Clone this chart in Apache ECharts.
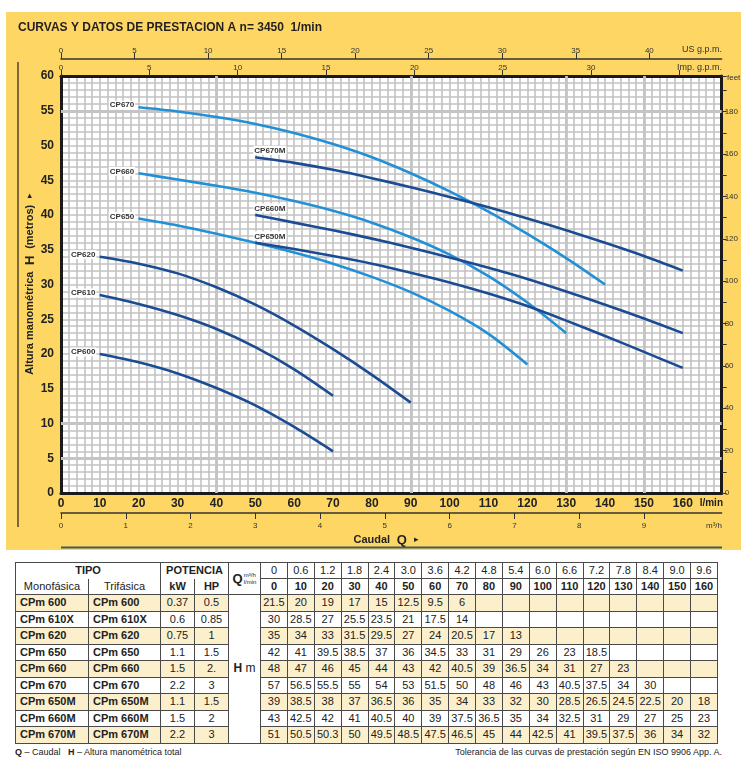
<!DOCTYPE html>
<html><head><meta charset="utf-8">
<script src="https://cdn.jsdelivr.net/npm/echarts@6/dist/echarts.min.js"></script>
<style>
body{margin:0;background:#fff;}
#wrap{position:relative;width:741px;height:758px;overflow:hidden;background:#fff;}
#panel{position:absolute;left:6px;top:12px;width:735px;height:538px;background:#FDD663;}
#chart{position:absolute;left:0;top:0;width:741px;height:560px;}
#tbl{position:absolute;left:15px;top:562px;border-collapse:collapse;table-layout:fixed;width:702px;
  font-family:"Liberation Sans",Arial,sans-serif;font-size:11px;color:#222;}
#tbl td{border:1px solid #4a4a4a;padding:0;text-align:center;white-space:nowrap;overflow:hidden;line-height:13px;}
#tbl tr.hd td{height:15px;}
#tbl tr.dr td{height:15.5px;}
#tbl tr.cream td{background:#FCEFCC;}
#tbl td.nm{text-align:left;padding-left:4px;font-weight:bold;}
#tbl td.b{font-weight:bold;}
#tbl td.hm{background:#fff !important;font-size:12px;}
.qb{font-weight:bold;font-size:13px;vertical-align:middle;}
.qs{display:inline-block;font-size:6px;line-height:7px;vertical-align:middle;text-align:left;margin-left:1px;}
.foot{position:absolute;top:747px;font-family:"Liberation Sans",Arial,sans-serif;font-size:9px;color:#222;}
</style>
</head><body>
<div id="wrap">
  <div id="panel"></div>
  <div id="chart"></div>
  <table id="tbl"></table>
  <div class="foot" style="left:15px;"><b>Q</b> – Caudal &nbsp;&nbsp;<b>H</b> – Altura manométrica total</div>
  <div class="foot" style="right:19px;">Tolerancia de las curvas de prestación según EN ISO 9906 App. A.</div>
</div>
<script>
// ---------- table data ----------
const qLmin = [0,10,20,30,40,50,60,70,80,90,100,110,120,130,140,150,160];
const qM3h = ['0','0.6','1.2','1.8','2.4','3.0','3.6','4.2','4.8','5.4','6.0','6.6','7.2','7.8','8.4','9.0','9.6'];
const typesMono = ['CPm 600','CPm 610X','CPm 620','CPm 650','CPm 660','CPm 670','CPm 650M','CPm 660M','CPm 670M'];
const typesTri  = ['CPm 600','CPm 610X','CPm 620','CPm 650','CPm 660','CPm 670','CPm 650M','CPm 660M','CPm 670M'];
const powerKW = ['0.37','0.6','0.75','1.1','1.5','2.2','1.1','1.5','2.2'];
const powerHP = ['0.5','0.85','1','1.5','2.','3','1.5','2','3'];
const h600  = [21.5,20,19,17,15,12.5,9.5,6];
const h610X = [30,28.5,27,25.5,23.5,21,17.5,14];
const h620  = [35,34,33,31.5,29.5,27,24,20.5,17,13];
const h650  = [42,41,39.5,38.5,37,36,34.5,33,31,29,26,23,18.5];
const h660  = [48,47,46,45,44,43,42,40.5,39,36.5,34,31,27,23];
const h670  = [57,56.5,55.5,55,54,53,51.5,50,48,46,43,40.5,37.5,34,30];
const h650M = [39,38.5,38,37,36.5,36,35,34,33,32,30,28.5,26.5,24.5,22.5,20,18];
const h660M = [43,42.5,42,41,40.5,40,39,37.5,36.5,35,34,32.5,31,29,27,25,23];
const h670M = [51,50.5,50.3,50,49.5,48.5,47.5,46.5,45,44,42.5,41,39.5,37.5,36,34,32];
const heads = [h600,h610X,h620,h650,h660,h670,h650M,h660M,h670M];

// ---------- curve data (every 10 l/min from the start flow) ----------
const curveNames  = ['CP600','CP610','CP620','CP650','CP660','CP670','CP650M','CP660M','CP670M'];
const curveStartQ = [10,10,10,20,20,20,50,50,50];
const c600  = [20,18.8,17.2,15.1,12.6,9.5,6];
const c610  = [28.5,27.2,25.6,23.6,21.0,17.8,14];
const c620  = [34,33,31.6,29.6,27.1,24.1,20.7,17,13];
const c650  = [39.5,38.5,37.3,36.0,34.6,33.0,31.1,28.9,26.2,22.9,18.5];
const c660  = [46,45.1,44.2,43.2,42.0,40.6,38.9,36.8,34.3,31.2,27.4,23];
const c670  = [55.5,54.9,54.1,53.1,51.8,50.2,48.3,46.0,43.4,40.5,37.3,33.8,30];
const c650M = [36,35.1,34.1,33.0,31.7,30.3,28.7,26.9,24.8,22.6,20.3,18];
const c660M = [40,38.9,37.8,36.6,35.3,33.9,32.4,30.8,29.0,27.1,25.1,23];
const c670M = [48.3,47.5,46.5,45.3,44.0,42.6,41.1,39.5,37.8,36.0,34.1,32];
const curves = [c600,c610,c620,c650,c660,c670,c650M,c660M,c670M];

// ---------- secondary axis tick labels ----------
const usTickLabels = [0,5,10,15,20,25,30,35,40];
const impTickLabels = [0,5,10,15,20,25,30];
const m3hTickLabels = [0,1,2,3,4,5,6,7,8,9];
const feetTickLabels = [0,20,40,60,80,100,120,140,160,180];

// ---------- styles ----------
const FONT = '"Liberation Sans Narrow","Liberation Sans",Arial,sans-serif';
const SANS = '"Liberation Sans",Arial,sans-serif';
const LIGHT = '#2190D6', DARK = '#1B4C93';
const curveColor = ['d','d','d','l','l','l','d','d','d'];
const GRIDC = '#c2c2c2';
const thickH = [5,10,55];
const thickV = [40,90,130,150];
const QMAX = 170;

// ---------- table ----------
(function(){
  let html = '<colgroup><col style="width:73px"><col style="width:72px"><col style="width:34px"><col style="width:34px"><col style="width:32px">';
  for (let i=0;i<qLmin.length;i++) html += '<col style="width:26.88px">';
  html += '</colgroup>';
  html += '<tr class="hd"><td colspan="2" class="b" style="border-bottom:hidden">TIPO</td><td colspan="2" class="b" style="border-bottom:hidden">POTENCIA</td>'+
          '<td rowspan="2"><span class="qb">Q</span><span class="qs">m³/h<br>l/min</span></td>';
  qM3h.forEach(v=> html += '<td>'+v+'</td>');
  html += '</tr><tr class="hd"><td>Monofásica</td><td>Trifásica</td><td class="b">kW</td><td class="b">HP</td>';
  qLmin.forEach(v=> html += '<td class="b">'+v+'</td>');
  html += '</tr>';
  heads.forEach((h,i)=>{
    html += '<tr class="dr'+(i%2===0?' cream':'')+'"><td class="nm">'+typesMono[i]+'</td><td class="nm">'+typesTri[i]+'</td><td>'+powerKW[i]+'</td><td>'+powerHP[i]+'</td>';
    if (i===0) html += '<td rowspan="'+heads.length+'" class="hm"><b>H</b> m</td>';
    qLmin.forEach((q,j)=> html += '<td>'+(h[j]!==undefined? h[j] : '')+'</td>');
    html += '</tr>';
  });
  document.getElementById('tbl').innerHTML = html;
})();

// ---------- chart ----------
const chart = echarts.init(document.getElementById('chart'), null, {renderer:'canvas'});

const curveSeries = curves.map((c,i)=>{
  const isM = curveNames[i].endsWith('M');
  const qs = qLmin.filter(q=> q>=curveStartQ[i]);
  const col = curveColor[i]==='l' ? LIGHT : DARK;
  const data = c.map((h,k)=> k===0 ? {
      value:[qs[k],h], symbol:'circle', symbolSize:1,
      label:{show:true, formatter:curveNames[i],
        position: isM ? 'top' : 'left', align: isM ? 'left' : 'right',
        distance: isM ? 2 : 3, offset: isM ? [-2,0] : [0,-2],
        fontSize:8, fontWeight:'bold', color:'#333', fontFamily:SANS,
        backgroundColor:'#fff', padding:[1,1,0,1]}
    } : [qs[k],h]);
  return {type:'line', name:curveNames[i], xAxisIndex:0, yAxisIndex:0, smooth:0.3,
    symbol:'none', showSymbol:true, z:5, silent:true,
    itemStyle:{color:col}, lineStyle:{color:col, width:2.6},
    emphasis:{disabled:true}, data:data};
});

const gridSeries = {type:'line', data:[], xAxisIndex:0, yAxisIndex:0, z:1, silent:true,
  markLine:{silent:true, symbol:'none', animation:false, label:{show:false},
    lineStyle:{color:'#c4c4c4', width:2.8, type:'solid'},
    data:[...thickH.map(v=>({yAxis:v})), ...thickV.map(v=>({xAxis:v}))]}};

const secTick = (vals)=>({show:true, length:6, customValues:vals, lineStyle:{color:'#333', width:1}});

const option = {
  animation:false,
  backgroundColor:'transparent',
  grid:{left:61, top:76, width:661, height:417, show:true, backgroundColor:'#fff', borderWidth:0},
  xAxis:[
    {type:'value', position:'bottom', min:0, max:QMAX, interval:10,
     axisLine:{show:true, onZero:false, lineStyle:{color:'#1a1a1a', width:3}},
     axisTick:{show:false},
     axisLabel:{fontSize:12, fontWeight:'bold', color:'#222', fontFamily:FONT, margin:5,
       formatter:v=> v>=QMAX ? '' : String(v)},
     splitLine:{show:true, lineStyle:{color:GRIDC, width:1.6}},
     minorTick:{show:false, splitNumber:5},
     minorSplitLine:{show:true, lineStyle:{color:GRIDC, width:1.6}}},
    {type:'value', position:'top', offset:0, min:0, max:QMAX/4.546, interval:5,
     axisLine:{show:true, onZero:false, lineStyle:{color:'#1a1a1a', width:3}},
     axisTick:secTick(impTickLabels.concat([35])),
     axisLabel:{fontSize:8, color:'#333', fontFamily:FONT, margin:4, customValues:impTickLabels,
       formatter:v=> impTickLabels.includes(v) ? String(v) : ''},
     splitLine:{show:false}},
    {type:'value', position:'top', offset:17, min:0, max:QMAX/3.785, interval:5,
     axisLine:{show:true, onZero:false, lineStyle:{color:'#333', width:1.5}},
     axisTick:secTick(usTickLabels),
     axisLabel:{fontSize:8, color:'#333', fontFamily:FONT, margin:4, customValues:usTickLabels,
       formatter:v=> usTickLabels.includes(v) ? String(v) : ''},
     splitLine:{show:false}},
    {type:'value', position:'bottom', offset:20, min:0, max:QMAX*0.06, interval:1,
     axisLine:{show:true, onZero:false, lineStyle:{color:'#333', width:1.5}},
     axisTick:secTick(m3hTickLabels),
     axisLabel:{fontSize:8, color:'#333', fontFamily:FONT, margin:9, customValues:m3hTickLabels,
       formatter:v=> m3hTickLabels.includes(v) ? String(v) : ''},
     splitLine:{show:false}}
  ],
  yAxis:[
    {type:'value', position:'left', min:0, max:60, interval:5,
     axisLine:{show:true, onZero:false, lineStyle:{color:'#1a1a1a', width:3}},
     axisTick:{show:false},
     axisLabel:{fontSize:12, fontWeight:'bold', color:'#222', fontFamily:FONT, margin:7},
     splitLine:{show:true, lineStyle:{color:GRIDC, width:1.6}},
     minorTick:{show:false, splitNumber:5},
     minorSplitLine:{show:true, lineStyle:{color:GRIDC, width:1.6}}},
    {type:'value', position:'right', min:0, max:60/0.3048, interval:10,
     axisLine:{show:true, onZero:false, lineStyle:{color:'#1a1a1a', width:3}},
     axisTick:{show:true, length:5, lineStyle:{color:'#333', width:1}},
     axisLabel:{fontSize:8, color:'#333', fontFamily:FONT, margin:3, customValues:feetTickLabels,
       formatter:v=> feetTickLabels.includes(v) ? String(v) : ''},
     splitLine:{show:false}}
  ],
  graphic:{elements:[
    {type:'text', x:18, y:28, style:{text:'CURVAS Y DATOS DE PRESTACION A n= 3450  1/min', font:'bold 12px '+FONT, fill:'#231f20', verticalAlign:'middle'}},
    {type:'line', shape:{x1:18, y1:62, x2:18, y2:527}, style:{stroke:'#222', lineWidth:1.2}},
    {type:'text', x:30, y:284, rotation:Math.PI/2,
     style:{text:'{a|Altura manométrica}  {b|H}  {a|(metros)}  {c|▸}', align:'center', verticalAlign:'middle',
       rich:{a:{font:'bold 11px '+FONT, fill:'#222'}, b:{font:'bold 13px '+FONT, fill:'#222'}, c:{font:'9px '+SANS, fill:'#222'}}}},
    {type:'text', x:386, y:540,
     style:{text:'{a|Caudal}  {b|Q}  {c|▸}', align:'center', verticalAlign:'middle',
       rich:{a:{font:'bold 11px '+FONT, fill:'#222'}, b:{font:'bold 13px '+FONT, fill:'#222'}, c:{font:'9px '+SANS, fill:'#222'}}}},
    {type:'line', shape:{x1:61, y1:547.5, x2:722, y2:547.5}, style:{stroke:'#3d5c66', lineWidth:2}},
    {type:'text', x:723, y:503, style:{text:'l/min', font:'bold 10px '+FONT, fill:'#222', align:'right', verticalAlign:'middle'}},
    {type:'text', x:722, y:526, style:{text:'m³/h', font:'8px '+FONT, fill:'#333', align:'right', verticalAlign:'middle'}},
    {type:'text', x:722, y:50, style:{text:'US g.p.m.', font:'9px '+FONT, fill:'#333', align:'right', verticalAlign:'middle'}},
    {type:'text', x:722, y:68, style:{text:'Imp. g.p.m.', font:'9px '+FONT, fill:'#333', align:'right', verticalAlign:'middle'}},
    {type:'text', x:727, y:78, style:{text:'feet', font:'8px '+FONT, fill:'#333', align:'left', verticalAlign:'middle'}}
  ]},
  series:[gridSeries, ...curveSeries]
};
chart.setOption(option);
</script>
</body></html>
